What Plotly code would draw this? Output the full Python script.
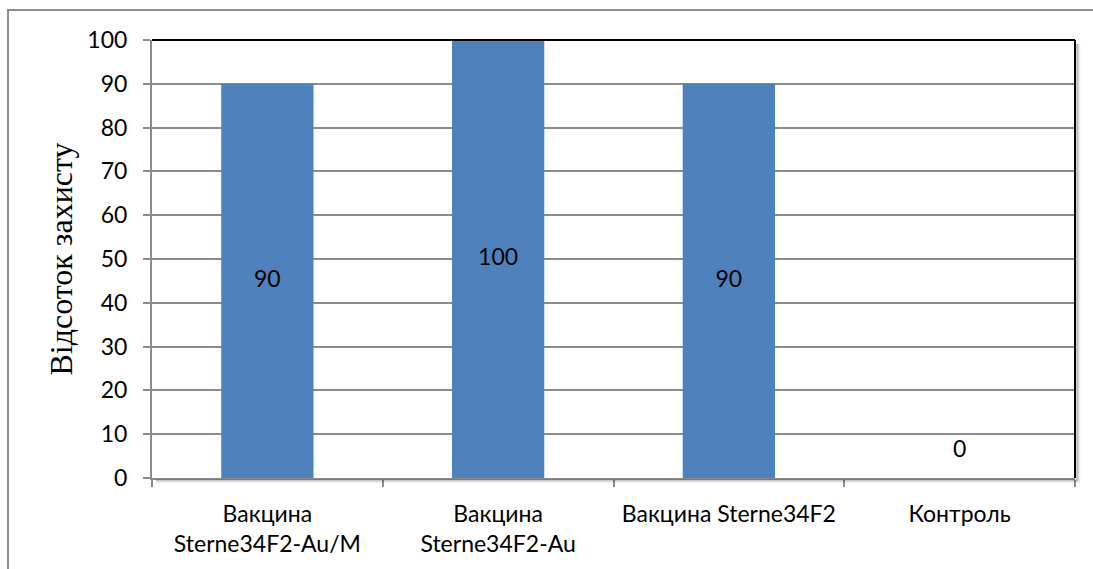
import plotly.graph_objects as go

categories = ["Вакцина<br>Sterne34F2-Au/M", "Вакцина<br>Sterne34F2-Au", "Вакцина Sterne34F2", "Контроль"]
values = [90, 100, 90, 0]
y_title = "Відсоток захисту"

BLUE = "#4F81BD"
GRID = "#8C8C8C"
W, H = 1093, 569
L, R, T, B = 152, 1075, 40, 478
PW, PH = R - L, B - T

def px(x):
    return (x - L) / PW

def py(y):
    return (B - y) / PH

fig = go.Figure()
fig.add_trace(go.Bar(
    x=categories, y=values, marker=dict(color=BLUE, line=dict(width=0)),
    width=0.4, hoverinfo="skip", showlegend=False,
))
label_y = [v / 2 if v > 0 else 6 for v in values]
fig.add_trace(go.Scatter(
    x=categories, y=label_y, mode="text", text=[str(v) for v in values],
    textfont=dict(family="Lato", size=23, color="#000000"),
    textposition="middle center", hoverinfo="skip", showlegend=False,
))

shapes = []
# outer chart border
shapes.append(dict(type="rect", xref="paper", yref="paper",
                   x0=px(8), x1=px(1110), y0=py(10), y1=py(600),
                   line=dict(color="#8E8E8E", width=2), fillcolor="rgba(0,0,0,0)", layer="below"))
# shadows
for i, op in enumerate([0.30, 0.18, 0.09, 0.04]):
    off = 2 + i
    shapes.append(dict(type="line", xref="paper", yref="paper",
                       x0=px(R + off), x1=px(R + off), y0=py(T + 4), y1=py(B + off),
                       line=dict(color=f"rgba(0,0,0,{op})", width=1.2)))
    shapes.append(dict(type="line", xref="paper", yref="paper",
                       x0=px(L + 4), x1=px(R + off), y0=py(B + off), y1=py(B + off),
                       line=dict(color=f"rgba(0,0,0,{op})", width=1.2)))
# black top & right border
shapes.append(dict(type="line", xref="paper", yref="paper", x0=0, x1=1, y0=1, y1=1,
                   line=dict(color="#000000", width=2)))
shapes.append(dict(type="line", xref="paper", yref="paper", x0=1, x1=1, y0=0, y1=1,
                   line=dict(color="#000000", width=2)))

fig.update_layout(
    width=W, height=H,
    margin=dict(l=L, r=W - R, t=T, b=H - B, pad=0),
    paper_bgcolor="white", plot_bgcolor="white",
    bargap=0.6,
    shapes=shapes,
    xaxis=dict(
        type="category", showgrid=False, zeroline=False,
        showline=True, linecolor=GRID, linewidth=2,
        ticks="outside", tickson="boundaries", ticklen=7, tickcolor=GRID, tickwidth=1.5,
        tickfont=dict(family="Lato", size=23, color="#000000"),
        ticklabelstandoff=14,
    ),
    yaxis=dict(
        range=[0, 100], dtick=10, tick0=0,
        showgrid=True, gridcolor=GRID, gridwidth=1.5, zeroline=False,
        showline=True, linecolor=GRID, linewidth=2,
        ticks="outside", ticklen=7, tickcolor=GRID, tickwidth=1.5,
        tickfont=dict(family="Lato", size=23, color="#000000"),
        ticklabelstandoff=11,
        title=dict(text=y_title, font=dict(family="Liberation Serif", size=32, color="#000000"),
                   standoff=5),
    ),
)

fig.write_html("out.html")
